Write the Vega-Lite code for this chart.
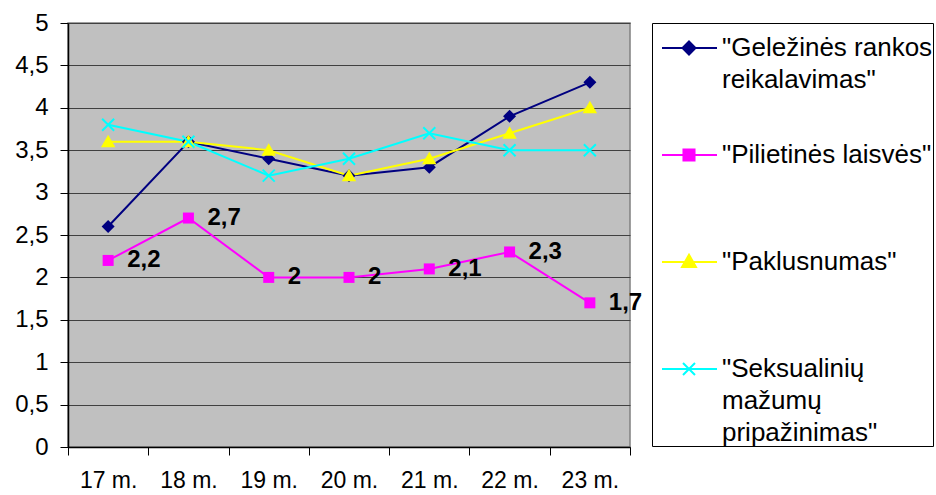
{
  "$schema": "https://vega.github.io/schema/vega-lite/v6.json",
  "width": 562,
  "height": 424,
  "autosize": {"type": "none"},
  "padding": {"left": 68, "top": 23, "right": 306, "bottom": 48},
  "background": "white",
  "config": {
    "font": "Liberation Sans",
    "locale": {"number": {"decimal": ",", "thousands": " ", "grouping": [3], "currency": ["", ""]}},
    "view": {"fill": "#C0C0C0", "stroke": "#808080", "strokeWidth": 1.5}
  },
  "data": {
    "values": [
      {"year": "17 m.", "series": "\"Geležinės rankos reikalavimas\"", "value": 2.6},
      {"year": "18 m.", "series": "\"Geležinės rankos reikalavimas\"", "value": 3.6},
      {"year": "19 m.", "series": "\"Geležinės rankos reikalavimas\"", "value": 3.4},
      {"year": "20 m.", "series": "\"Geležinės rankos reikalavimas\"", "value": 3.2},
      {"year": "21 m.", "series": "\"Geležinės rankos reikalavimas\"", "value": 3.3},
      {"year": "22 m.", "series": "\"Geležinės rankos reikalavimas\"", "value": 3.9},
      {"year": "23 m.", "series": "\"Geležinės rankos reikalavimas\"", "value": 4.3},
      {"year": "17 m.", "series": "\"Pilietinės laisvės\"", "value": 2.2},
      {"year": "18 m.", "series": "\"Pilietinės laisvės\"", "value": 2.7},
      {"year": "19 m.", "series": "\"Pilietinės laisvės\"", "value": 2.0},
      {"year": "20 m.", "series": "\"Pilietinės laisvės\"", "value": 2.0},
      {"year": "21 m.", "series": "\"Pilietinės laisvės\"", "value": 2.1},
      {"year": "22 m.", "series": "\"Pilietinės laisvės\"", "value": 2.3},
      {"year": "23 m.", "series": "\"Pilietinės laisvės\"", "value": 1.7},
      {"year": "17 m.", "series": "\"Paklusnumas\"", "value": 3.6},
      {"year": "18 m.", "series": "\"Paklusnumas\"", "value": 3.6},
      {"year": "19 m.", "series": "\"Paklusnumas\"", "value": 3.5},
      {"year": "20 m.", "series": "\"Paklusnumas\"", "value": 3.2},
      {"year": "21 m.", "series": "\"Paklusnumas\"", "value": 3.4},
      {"year": "22 m.", "series": "\"Paklusnumas\"", "value": 3.7},
      {"year": "23 m.", "series": "\"Paklusnumas\"", "value": 4.0},
      {"year": "17 m.", "series": "\"Seksualinių mažumų pripažinimas\"", "value": 3.8},
      {"year": "18 m.", "series": "\"Seksualinių mažumų pripažinimas\"", "value": 3.6},
      {"year": "19 m.", "series": "\"Seksualinių mažumų pripažinimas\"", "value": 3.2},
      {"year": "20 m.", "series": "\"Seksualinių mažumų pripažinimas\"", "value": 3.4},
      {"year": "21 m.", "series": "\"Seksualinių mažumų pripažinimas\"", "value": 3.7},
      {"year": "22 m.", "series": "\"Seksualinių mažumų pripažinimas\"", "value": 3.5},
      {"year": "23 m.", "series": "\"Seksualinių mažumų pripažinimas\"", "value": 3.5}
    ]
  },
  "encoding": {
    "x": {
      "field": "year", "type": "ordinal", "sort": null,
      "scale": {"paddingInner": 0, "paddingOuter": 0},
      "axis": {
        "title": null, "labelAngle": 0, "labelFontSize": 23, "labelColor": "black",
        "labelPadding": 14, "tickBand": "extent", "tickSize": 8, "tickColor": "black",
        "domainColor": "black", "domainWidth": 1.5, "grid": false
      }
    },
    "y": {
      "field": "value", "type": "quantitative",
      "scale": {"domain": [0, 5], "nice": false},
      "axis": {
        "title": null, "values": [0, 0.5, 1, 1.5, 2, 2.5, 3, 3.5, 4, 4.5, 5],
        "format": ".1~f", "labelFontSize": 24, "labelColor": "black", "labelPadding": 12,
        "tickSize": 8, "tickColor": "black", "domainColor": "black", "domainWidth": 1.5,
        "grid": true, "gridColor": "#404040", "gridOpacity": 1, "gridWidth": 1
      }
    }
  },
  "layer": [
    {
      "mark": {"type": "line", "strokeWidth": 2},
      "encoding": {
        "color": {
          "field": "series", "type": "nominal",
          "scale": {
            "domain": ["\"Geležinės rankos reikalavimas\"", "\"Pilietinės laisvės\"", "\"Paklusnumas\"", "\"Seksualinių mažumų pripažinimas\""],
            "range": ["#000080", "#FF00FF", "#FFFF00", "#00FFFF"]
          },
          "legend": {
            "orient": "none", "legendX": 584, "legendY": 0, "title": null,
            "fillColor": "white", "strokeColor": "black", "padding": 0,
            "labelFontSize": 26, "labelColor": "black", "labelLimit": 400,
            "labelOffset": 20, "symbolSize": 2304, "symbolStrokeWidth": 2,
            "gridAlign": "all", "rowPadding": 5, "labelBaseline": "top",
            "labelExpr": "datum.label == '\"Geležinės rankos reikalavimas\"' ? ['\"Geležinės rankos', 'reikalavimas\"'] : datum.label == '\"Seksualinių mažumų pripažinimas\"' ? ['\"Seksualinių', 'mažumų', 'pripažinimas\"'] : datum.label",
            "encode": {
              "labels": {"update": {"lineHeight": {"value": 32}, "dy": {"value": -13}}},
              "symbols": {
                "update": {
                  "shape": {"signal": "datum.value == '\"Geležinės rankos reikalavimas\"' ? 'M-0.625,0L1.667,0M0.5,-0.27L0.77,0L0.5,0.27L0.23,0Z' : datum.value == '\"Pilietinės laisvės\"' ? 'M-0.625,0L1.667,0M0.27,-0.23L0.73,-0.23L0.73,0.23L0.27,0.23Z' : datum.value == '\"Paklusnumas\"' ? 'M-0.625,0L1.667,0M0.5,-0.3L0.79,0.21L0.21,0.21Z' : 'M-0.625,0L1.667,0M0.25,-0.25L0.75,0.25M0.25,0.25L0.75,-0.25'"},
                  "fill": {"signal": "datum.value == '\"Geležinės rankos reikalavimas\"' ? '#000080' : datum.value == '\"Pilietinės laisvės\"' ? '#FF00FF' : datum.value == '\"Paklusnumas\"' ? '#FFFF00' : '#00FFFF'"},
                  "stroke": {"signal": "datum.value == '\"Geležinės rankos reikalavimas\"' ? '#000080' : datum.value == '\"Pilietinės laisvės\"' ? '#FF00FF' : datum.value == '\"Paklusnumas\"' ? '#FFFF00' : '#00FFFF'"},
                  "strokeWidth": {"value": 2},
                  "opacity": {"value": 1},
                  "fillOpacity": {"value": 1},
                  "strokeOpacity": {"value": 1}
                }
              }
            }
          }
        }
      }
    },
    {
      "transform": [{"filter": {"field": "series", "equal": "\"Geležinės rankos reikalavimas\""}}],
      "mark": {"type": "point", "shape": "M0,-0.65L0.65,0L0,0.65L-0.65,0Z", "size": 400, "filled": true, "color": "#000080", "opacity": 1}
    },
    {
      "transform": [{"filter": {"field": "series", "equal": "\"Pilietinės laisvės\""}}],
      "mark": {"type": "point", "shape": "M-0.55,-0.55L0.55,-0.55L0.55,0.55L-0.55,0.55Z", "size": 400, "filled": true, "color": "#FF00FF", "opacity": 1}
    },
    {
      "transform": [{"filter": {"field": "series", "equal": "\"Paklusnumas\""}}],
      "mark": {"type": "point", "shape": "M0,-0.7L0.72,0.55L-0.72,0.55Z", "size": 400, "filled": true, "color": "#FFFF00", "opacity": 1}
    },
    {
      "transform": [{"filter": {"field": "series", "equal": "\"Seksualinių mažumų pripažinimas\""}}],
      "mark": {"type": "point", "shape": "M-0.6,-0.6L0.6,0.6M-0.6,0.6L0.6,-0.6", "size": 400, "filled": false, "color": "#00FFFF", "strokeWidth": 2, "opacity": 1}
    },
    {
      "transform": [{"filter": {"field": "series", "equal": "\"Pilietinės laisvės\""}}],
      "mark": {"type": "text", "align": "left", "baseline": "middle", "dx": 19, "fontSize": 24, "fontWeight": "bold", "color": "black"},
      "encoding": {
        "text": {"field": "value", "type": "quantitative", "format": ".1~f"}
      }
    }
  ]
}
